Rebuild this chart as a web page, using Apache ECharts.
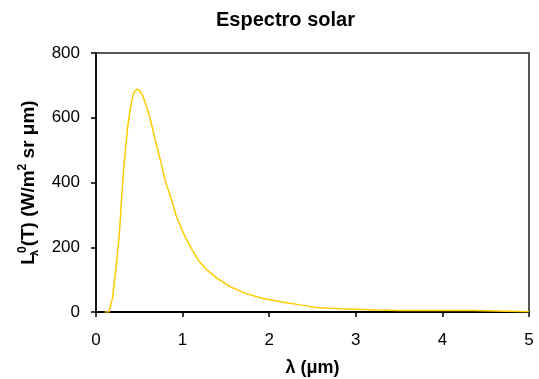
<!DOCTYPE html>
<html>
<head>
<meta charset="utf-8">
<script src="https://cdn.jsdelivr.net/npm/echarts@6/dist/echarts.min.js"></script>
<style>
  html, body { margin: 0; padding: 0; background: #fff; }
  #chart { width: 539px; height: 379px; }
</style>
</head>
<body>
<div id="chart"></div>
<script>
// wavelength (um) and radiance
const lambdaList = [0.10, 0.15, 0.16, 0.19, 0.22, 0.24, 0.27, 0.30, 0.32, 0.35, 0.37, 0.40, 0.43, 0.45, 0.48, 0.51, 0.54, 0.57, 0.62, 0.68, 0.74, 0.80, 0.87, 0.93, 1.01, 1.09, 1.18, 1.28, 1.40, 1.55, 1.74, 1.93, 2.13, 2.36, 2.55, 2.82, 3.23, 3.50, 4.00, 4.35, 4.37, 5.00]
const radianceList = [0, 0, 6, 42, 110, 160, 243, 370, 440, 530, 582, 634, 672, 683, 688, 682, 668, 645, 603, 535, 472, 405, 348, 294, 243, 202, 160, 130, 104, 78, 56, 42, 32, 22, 14, 10, 6, 5, 5, 5, 1, 1]
const xTicks = [0, 1, 2, 3, 4, 5]
const yTicks = [0, 200, 400, 600, 800]

const font = 'Liberation Sans, Arial, sans-serif'

let points = lambdaList.map((x, i) => [x, radianceList[i]])

let chart = echarts.init(document.getElementById('chart'))

let option = {
  animation: false,
  backgroundColor: '#fff',
  title: {
    text: 'Espectro solar',
    left: 216,
    top: 10,
    padding: 0,
    textStyle: { fontFamily: font, fontSize: 20, fontWeight: 'bold', color: '#000' }
  },
  grid: {
    left: 96, right: 10, top: 53, bottom: 67,
    outerBoundsMode: 'none',
    show: true, borderColor: '#222', borderWidth: 1.5
  },
  xAxis: {
    type: 'value',
    min: xTicks[0],
    max: xTicks[xTicks.length - 1],
    interval: 1,
    name: 'λ (μm)',
    nameLocation: 'middle',
    nameGap: 47,
    nameTextStyle: { fontFamily: font, fontSize: 18, fontWeight: 'bold', color: '#000' },
    axisLine: { lineStyle: { color: '#000', width: 2 } },
    axisTick: { show: true, length: 5, lineStyle: { color: '#000', width: 1.5 } },
    axisLabel: { fontFamily: font, fontSize: 17, color: '#000', margin: 20 },
    splitLine: { show: false }
  },
  yAxis: {
    type: 'value',
    min: yTicks[0],
    max: yTicks[yTicks.length - 1],
    interval: 200,
    name: '{b|L}{sub|λ}{sup|0}{b|(T) (W/m}{sup|2}{b| sr μm)}',
    nameLocation: 'middle',
    nameRotate: 90,
    nameGap: 48,
    nameTextStyle: {
      fontFamily: font, fontWeight: 'bold', color: '#000',
      rich: {
        b: { fontFamily: font, fontSize: 19, fontWeight: 'bold', color: '#000', lineHeight: 24 },
        sup: { fontFamily: font, fontSize: 12, fontWeight: 'bold', color: '#000', verticalAlign: 'top', lineHeight: 24 },
        sub: { fontFamily: font, fontSize: 11, color: '#000', verticalAlign: 'bottom', lineHeight: 24, width: 0 }
      }
    },
    axisLine: { show: true, lineStyle: { color: '#000', width: 1.5 } },
    axisTick: { show: true, length: 5, lineStyle: { color: '#000', width: 1.5 } },
    axisLabel: { fontFamily: font, fontSize: 17, color: '#000', margin: 16 },
    splitLine: { show: false }
  },
  series: [{
    type: 'line',
    data: points,
    showSymbol: false,
    lineStyle: { color: '#FFCC00', width: 1.5 },
    itemStyle: { color: '#FFCC00' }
  }]
}

chart.setOption(option)
</script>
</body>
</html>
